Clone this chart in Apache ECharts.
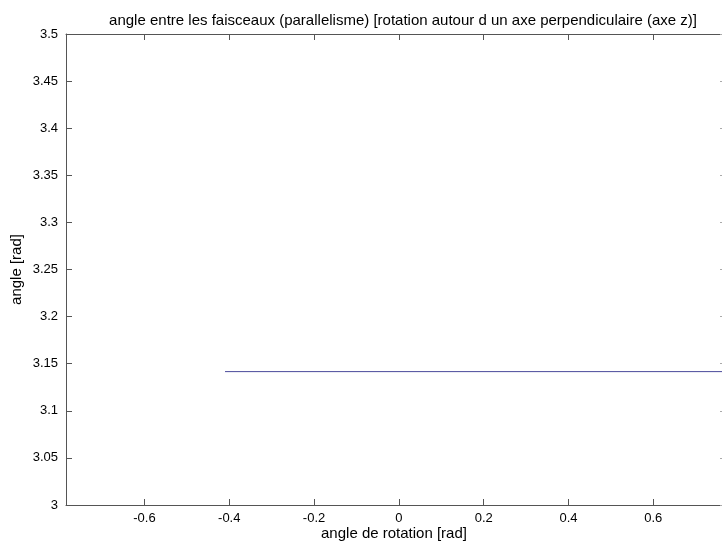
<!DOCTYPE html>
<html>
<head>
<meta charset="utf-8">
<script src="https://cdn.jsdelivr.net/npm/echarts@6/dist/echarts.min.js"></script>
<style>
  html, body { margin: 0; padding: 0; background: #fff; overflow: hidden; }
  #chart { width: 722px; height: 542px; }
</style>
</head>
<body>
<div id="chart"></div>
<script>
// Angle between beams vs rotation angle around the perpendicular axis (z)
const xRange = [-0.785, 0.762];
const yRange = [3, 3.5];
const xTicks = [-0.6, -0.4, -0.2, 0, 0.2, 0.4, 0.6];
const yStep = 0.05;
const rotation = [-0.41, 0.762];
const angle = [3.1416, 3.1416];

const FONT = 'Liberation Sans, Arial, sans-serif';
const AXIS_COLOR = '#555';

const series = rotation.map((x, i) => [x, angle[i]]);

function fmt(v) {
  return String(parseFloat(v.toFixed(2)));
}

const xBase = {
  type: 'value', min: xRange[0], max: xRange[1],
  axisLine: { show: true, onZero: false, lineStyle: { color: AXIS_COLOR, width: 1 } },
  axisTick: { show: true, inside: true, length: 6, customValues: xTicks, lineStyle: { color: AXIS_COLOR } },
  splitLine: { show: false },
  axisLabel: { show: false }
};
const yBase = {
  type: 'value', min: yRange[0], max: yRange[1], interval: yStep,
  axisLine: { show: true, onZero: false, lineStyle: { color: AXIS_COLOR, width: 1 } },
  axisTick: { show: true, inside: true, length: 6, lineStyle: { color: AXIS_COLOR } },
  splitLine: { show: false },
  axisLabel: { show: false }
};

const chart = echarts.init(document.getElementById('chart'), null, { renderer: 'canvas' });
chart.setOption({
  backgroundColor: '#fff',
  animation: false,
  title: {
    text: 'angle entre les faisceaux (parallelisme) [rotation autour d un axe perpendiculaire (axe z)]',
    left: 398, top: 8, textAlign: 'center',
    textStyle: { fontFamily: FONT, fontSize: 15, fontWeight: 'normal', color: '#000' }
  },
  grid: { left: 66, right: 0, top: 34, bottom: 37, containLabel: false, outerBoundsMode: 'none' },
  xAxis: [
    Object.assign({}, xBase, {
      position: 'bottom',
      name: 'angle de rotation [rad]', nameLocation: 'middle', nameGap: 21,
      nameMoveOverlap: false,
      nameTextStyle: { fontFamily: FONT, fontSize: 15, color: '#000' },
      axisLabel: {
        show: true, customValues: xTicks, margin: 7,
        fontFamily: FONT, fontSize: 13, color: '#000',
        formatter: fmt
      }
    }),
    Object.assign({}, xBase, { position: 'top' })
  ],
  yAxis: [
    Object.assign({}, yBase, {
      position: 'left',
      name: 'angle [rad]', nameLocation: 'middle', nameGap: 42, nameRotate: 90,
      nameMoveOverlap: false,
      nameTextStyle: { fontFamily: FONT, fontSize: 15, color: '#000' },
      axisLabel: {
        show: true, margin: 8, fontFamily: FONT, fontSize: 13, color: '#000',
        formatter: fmt
      }
    }),
    // right frame edge sits just past the visible area; only its tick stubs show
    Object.assign({}, yBase, {
      position: 'right', offset: 4,
      axisLine: { show: false, onZero: false },
      axisTick: { show: true, inside: true, length: 6, lineStyle: { color: '#aaa' } }
    })
  ],
  series: [{
    type: 'line', xAxisIndex: 0, yAxisIndex: 0,
    data: series, showSymbol: false, symbol: 'none',
    lineStyle: { color: '#4a4a9a', width: 1 }
  }]
});
</script>
</body>
</html>
